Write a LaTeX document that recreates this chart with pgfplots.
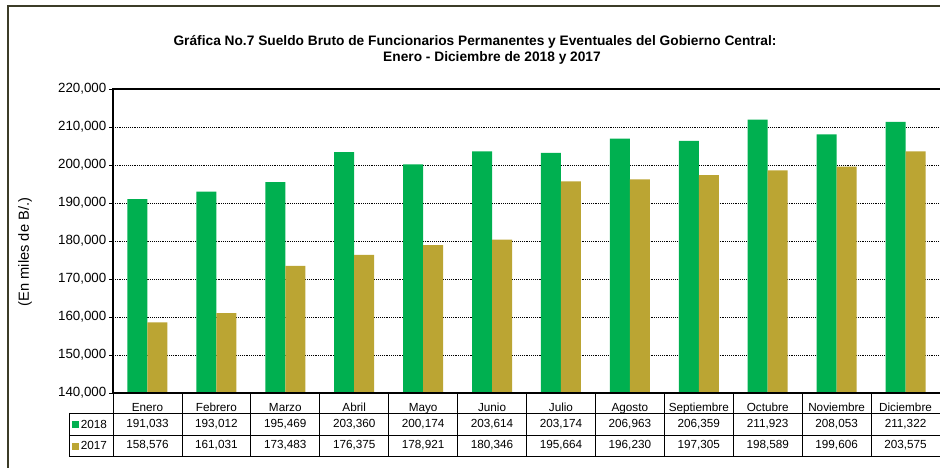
\documentclass[border=0pt]{standalone}
\usepackage{pgfplots}
\pgfplotsset{compat=1.18}
\usepackage{pgfplotstable}
\usepackage{fontspec}
\setmainfont{Liberation Sans}
\definecolor{g18}{RGB}{0,176,80}
\definecolor{g17}{RGB}{187,165,51}
\definecolor{frame}{RGB}{60,60,40}
\pgfkeys{/pgf/number format/.cd, assume math mode=true, fixed, precision=0, 1000 sep={,}}
\pgfplotstableread{
x a b
0 191033 158576
1 193012 161031
2 195469 173483
3 203360 176375
4 200174 178921
5 203614 180346
6 203174 195664
7 206963 196230
8 206359 197305
9 211923 198589
10 208053 199606
11 211322 203575
}\datatable
\begin{document}
\begin{tikzpicture}
\useasboundingbox (0,0) rectangle (705pt,351pt);
% outer frame
\draw[frame, line width=0.8pt] (6pt,0pt) -- (6pt,346.5pt) -- (706pt,346.5pt);
% title
\node[font=\fontsize{10.3}{12}\selectfont\bfseries] at (356.25pt,319.5pt) {Gráfica No.7 Sueldo Bruto de Funcionarios Permanentes y Eventuales del Gobierno Central:};
\node[font=\fontsize{10.3}{12}\selectfont\bfseries] at (369pt,307.5pt) {Enero - Diciembre de 2018 y 2017};
% y label
\node[rotate=90, font=\fontsize{11}{13}\selectfont] at (18.75pt,162pt) {(En miles de B/.)};
\begin{axis}[
  at={(84.75pt,56.25pt)}, anchor=south west,
  scale only axis, width=620.25pt, height=228pt,
  xmin=-0.5, xmax=11.5, ymin=140000, ymax=220000,
  ybar=0pt, bar width=15pt,
  ytick={140000,150000,...,220000},
  /pgf/number format/assume math mode=true,
  /pgf/number format/fixed,
  /pgf/number format/precision=0,
  /pgf/number format/1000 sep={,},
  scaled y ticks=false,
  yticklabel style={font=\fontsize{10}{12}\selectfont, xshift=1.5pt},
  xtick={0,...,11},
  xticklabels={Enero,Febrero,Marzo,Abril,Mayo,Junio,Julio,Agosto,Septiembre,Octubre,Noviembre,Diciembre},
  xticklabel style={font=\fontsize{8.8}{10.5}\selectfont, anchor=base, inner sep=0pt, yshift=-10.9pt},
  xtick style={draw=none},
  ytick style={black, line width=0.6pt},
  tick align=outside, major tick length=3pt,
  axis line style={draw=none},
  ymajorgrids, grid style={black, densely dotted, line width=0.5pt},
  clip=false,
]
\addplot[fill=g18, draw=none] table[x=x, y=a] {\datatable};
\addplot[fill=g17, draw=none] table[x=x, y=b] {\datatable};
\draw[black, line width=1pt] (rel axis cs:1,1) -- (rel axis cs:0,1) -- (rel axis cs:0,0) -- (rel axis cs:1,0);
\pgfplotsinvokeforeach{0,...,12}{\coordinate (b#1) at (axis cs:#1-0.5,140000);}
\pgfplotsinvokeforeach{0,...,11}{\coordinate (c#1) at (axis cs:#1,140000);}
\end{axis}
% data table
\foreach \k in {0,...,12} \draw[black, line width=0.6pt] (b\k) -- ++(0,-47.25pt);
\draw[black, line width=0.6pt] (51.75pt,41.25pt) -- (706pt,41.25pt);
\draw[black, line width=0.6pt] (51.75pt,24.75pt) -- (706pt,24.75pt);
\draw[black, line width=0.6pt] (51.75pt,9pt) -- (706pt,9pt);
\draw[black, line width=0.6pt] (51.75pt,41.25pt) -- (51.75pt,9pt);
\node[font=\fontsize{8.8}{10.5}\selectfont, anchor=west, inner sep=0pt] at (54pt,33pt) {\textcolor{g18}{\rule{5pt}{5pt}}\,2018};
\node[font=\fontsize{8.8}{10.5}\selectfont, anchor=west, inner sep=0pt] at (54pt,16.9pt) {\textcolor{g17}{\rule{5pt}{5pt}}\,2017};
\foreach \k in {0,...,11}{
  \pgfplotstablegetelem{\k}{a}\of\datatable
  \node[font=\fontsize{8.8}{10.5}\selectfont] at ([yshift=-23.2pt]c\k) {\pgfmathprintnumber{\pgfplotsretval}};
  \pgfplotstablegetelem{\k}{b}\of\datatable
  \node[font=\fontsize{8.8}{10.5}\selectfont] at ([yshift=-39.4pt]c\k) {\pgfmathprintnumber{\pgfplotsretval}};
}
\end{tikzpicture}
\end{document}
